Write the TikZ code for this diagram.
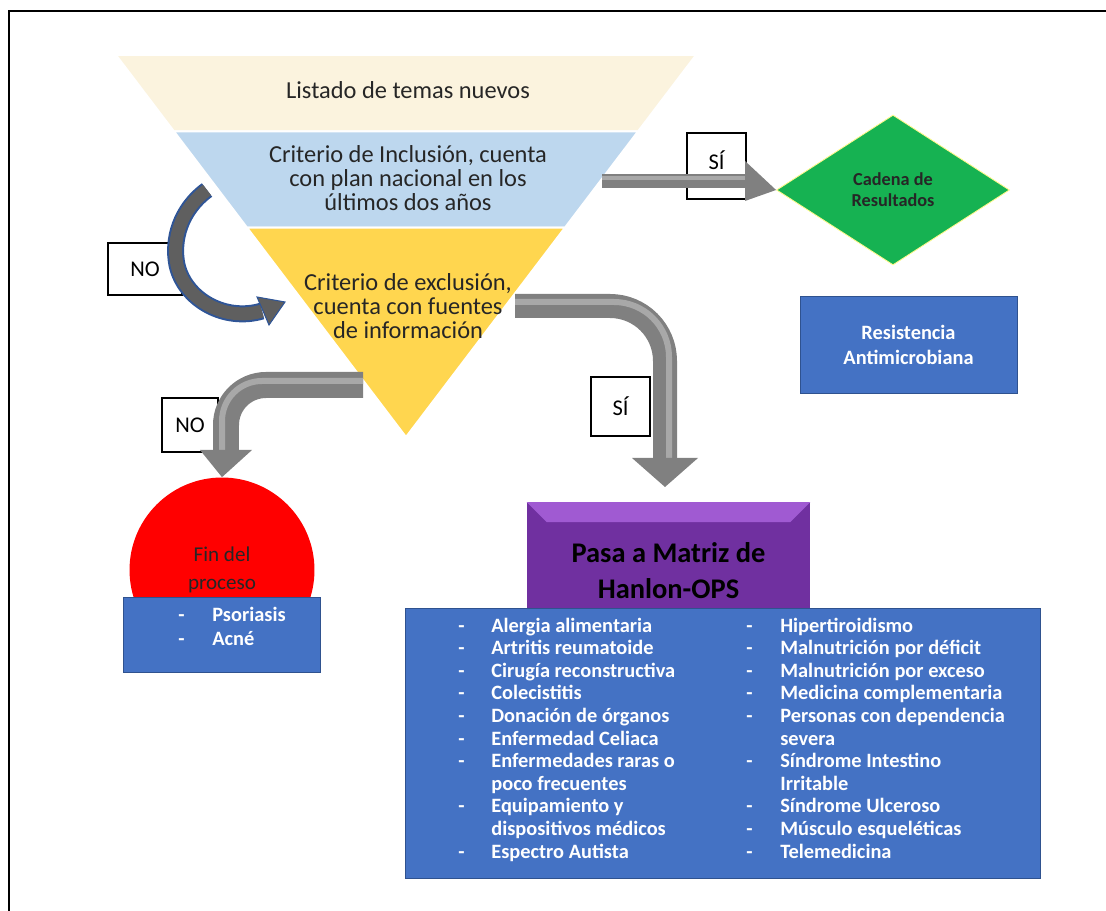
\documentclass[tikz,border=0pt]{standalone}
\usepackage{fontspec}
\setmainfont{Carlito}
\usetikzlibrary
  {
    shapes.geometric,         % diamond node
    calc,                     % points along the funnel sides
    positioning,
  }

\definecolor{cream}{RGB}{251,243,222}
\definecolor{skyband}{RGB}{189,215,238}
\definecolor{goldband}{RGB}{255,214,79}
\definecolor{boxblue}{RGB}{68,114,196}
\definecolor{boxedge}{RGB}{47,82,143}
\definecolor{leafgreen}{RGB}{22,178,82}
\definecolor{matrixpurple}{RGB}{112,48,160}
\definecolor{bevelpurple}{RGB}{160,90,210}
\definecolor{shaftgray}{RGB}{128,128,128}
\definecolor{shinegray}{RGB}{168,168,168}
\definecolor{curvegray}{RGB}{95,95,95}
\definecolor{curveblue}{RGB}{47,85,151}

\tikzset{
  answer/.style={draw=black, line width=0.6pt, fill=white, inner sep=0pt,
    font=\fontsize{12.8}{14}\selectfont},
  bluebox/.style={draw=boxedge, line width=0.5pt, fill=boxblue, text=white,
    align=center, inner sep=0pt, font=\bfseries\fontsize{11.6}{14.7}\selectfont},
  topic/.style={anchor=west, inner sep=0pt, text=white, text height=1.6ex,
    text depth=0.4ex, font=\bfseries\fontsize{11.6}{12.8}\selectfont},
  band/.style={draw=white, line width=1.1pt},
  bandtext/.style={align=center, text=black!85, font=\fontsize{13.9}{13.6}\selectfont},
}

\begin{document}
\begin{tikzpicture}[x=0.02cm, y=-0.02cm]
  \useasboundingbox (0,0) rectangle (1106,911);
  \draw[line width=1.2pt] (9,911) -- (9,11) -- (1106,11);

  % funnel
  \coordinate (ftl) at (116,55);
  \coordinate (ftr) at (696,55);
  \coordinate (apex) at (406,437);
  \coordinate (l1) at ($(ftl)!0.2!(apex)$);
  \coordinate (r1) at ($(ftr)!0.2!(apex)$);
  \coordinate (l2) at ($(ftl)!0.452!(apex)$);
  \coordinate (r2) at ($(ftr)!0.452!(apex)$);

  \path[band, fill=cream] (ftl) -- (ftr) -- (r1) -- (l1) -- cycle;
  \path[band, fill=skyband] (l1) -- (r1) -- (r2) -- (l2) -- cycle;
  \path[band, fill=goldband] (l2) -- (r2) -- (apex) -- cycle;

  \node[bandtext] (listado) at (408,90) {Listado de temas nuevos};
  \node[bandtext] (inclusion) at (408,178)
    {Criterio de Inclusión, cuenta\\con plan nacional en los\\últimos dos años};
  \node[bandtext] (exclusion) at (408,306)
    {Criterio de exclusión,\\cuenta con fuentes\\de información};

  % answer boxes
  \node[answer, minimum width=1.18cm, minimum height=1.32cm, text depth=0.24cm]
    (siTop) at (716.5,166) {SÍ};
  \node[answer, minimum width=1.48cm, minimum height=1.04cm] (noTop) at (145,269) {NO};
  \node[answer, minimum width=1.12cm, minimum height=1.08cm] (noLow) at (190,425) {NO};
  \node[answer, minimum width=1.18cm, minimum height=1.18cm] (siLow) at (620.5,406.5) {SÍ};

  % end points
  \node[diamond, fill=leafgreen, draw=yellow!45, line width=0.5pt,
    minimum width=4.66cm, minimum height=3cm, inner sep=0pt, align=center,
    text=black!85, font=\bfseries\fontsize{10.4}{12}\selectfont]
    (cadena) at (893,190) {Cadena de\\Resultados};
  \node[bluebox, minimum width=4.34cm, minimum height=1.94cm]
    (resistencia) at (908.5,345) {Resistencia\\Antimicrobiana};
  \node[circle, fill=red, minimum size=3.7cm, inner sep=0pt, align=center,
    text=black!85, font=\fontsize{12}{15.9}\selectfont]
    (fin) at (222,570) {Fin del\\proceso};
  \node[rectangle, fill=matrixpurple, minimum width=5.66cm, minimum height=2.74cm,
    inner sep=0pt, align=center, font=\bfseries\fontsize{16.2}{20.4}\selectfont]
    (hanlon) at (668.5,571) {Pasa a Matriz de\\Hanlon-OPS};
  \fill[bevelpurple] (hanlon.north west) -- (hanlon.north east) -- ++(-20,20)
    -- ($(hanlon.north west)+(20,20)$) -- cycle;

  % SI: straight arrow
  \coordinate (siTopFrom) at (602,181);
  \coordinate (siTopBase) at (745,181);
  \draw[line width=0.28cm, shaftgray] (siTopFrom) -- (siTopBase);
  \draw[line width=0.08cm, shinegray] ($(siTopFrom)+(0,-3)$) -- ($(siTopBase)+(0,-3)$);
  \fill[shaftgray] ($(siTopBase)+(0,-20)$) -- (cadena.west) -- ($(siTopBase)+(0,20)$) -- cycle;

  % NO: curved arrow
  \coordinate (curveFrom) at (207,190);
  \coordinate (curveTo) at (262,311);
  \draw[line width=0.34cm, curveblue] (curveFrom) .. controls (180,210) and (172,240) .. (177,265)
    .. controls (185,300) and (225,322) .. (curveTo);
  \draw[line width=0.26cm, curvegray] (curveFrom) .. controls (180,210) and (172,240) .. (177,265)
    .. controls (185,300) and (225,322) .. (curveTo);
  \filldraw[fill=curvegray, draw=curveblue, line width=0.6pt]
    (257,297) -- (285,302) -- (269,325) -- cycle;

  % NO: bent arrow
  \coordinate (noFrom) at (363,385);
  \coordinate (noBend) at (226,385);
  \coordinate (noBase) at (226,450);
  \draw[line width=0.52cm, shaftgray, rounded corners=0.8cm] (noFrom) -- (noBend) -- (noBase);
  \draw[line width=0.12cm, shinegray, rounded corners=0.8cm]
    ($(noFrom)+(0,-4)$) -- ($(noBend)+(-4,-4)$) -- ($(noBase)+(-4,0)$);
  \fill[shaftgray] ($(noBase)+(-26,0)$) -- ($(noBase)+(26,0)$) -- (fin.north) -- cycle;

  % SI: bent arrow
  \coordinate (siFrom) at (515,306);
  \coordinate (siBend) at (665,306);
  \coordinate (siBase) at (665,458);
  \coordinate (siTip) at (665,487);
  \draw[line width=0.48cm, shaftgray, rounded corners=1.1cm] (siFrom) -- (siBend) -- (siBase);
  \draw[line width=0.12cm, shinegray, rounded corners=1.1cm]
    ($(siFrom)+(0,-4)$) -- ($(siBend)+(4,-4)$) -- ($(siBase)+(4,0)$);
  \fill[shaftgray] ($(siBase)+(-33,0)$) -- ($(siBase)+(33,0)$) -- (siTip) -- cycle;

  % excluded topics
  \node[bluebox, minimum width=3.94cm, minimum height=1.5cm] (excluidos) at (221.5,634.5) {};
  \node[topic] (psoriasisDash) at (178,616) {-};
  \node[topic] (psoriasis) at (212,616) {Psoriasis};
  \node[topic] (acneDash) at (178,640) {-};
  \node[topic] (acne) at (212,640) {Acné};

  % topics for the Hanlon matrix
  \node[bluebox, minimum width=12.7cm, minimum height=5.4cm] (temas) at (722.5,743) {};
  \foreach \txt [count=\r] in {Alergia alimentaria, Artritis reumatoide,
      Cirugía reconstructiva, Colecistitis, Donación de órganos, Enfermedad Celiaca,
      Enfermedades raras o, poco frecuentes, Equipamiento y, dispositivos médicos,
      Espectro Autista}
    \node[topic] (left\r) at (491,{627+22.6*(\r-1)}) {\txt};
  \foreach \r in {1,2,3,4,5,6,7,9,11}
    \node[topic] (leftDash\r) at (458,{627+22.6*(\r-1)}) {-};
  \foreach \txt [count=\r] in {Hipertiroidismo, Malnutrición por déficit,
      Malnutrición por exceso, Medicina complementaria, Personas con dependencia,
      severa, Síndrome Intestino, Irritable, Síndrome Ulceroso, Músculo esqueléticas,
      Telemedicina}
    \node[topic] (right\r) at (780,{627+22.6*(\r-1)}) {\txt};
  \foreach \r in {1,2,3,4,5,7,9,10,11}
    \node[topic] (rightDash\r) at (746,{627+22.6*(\r-1)}) {-};
\end{tikzpicture}
\end{document}
